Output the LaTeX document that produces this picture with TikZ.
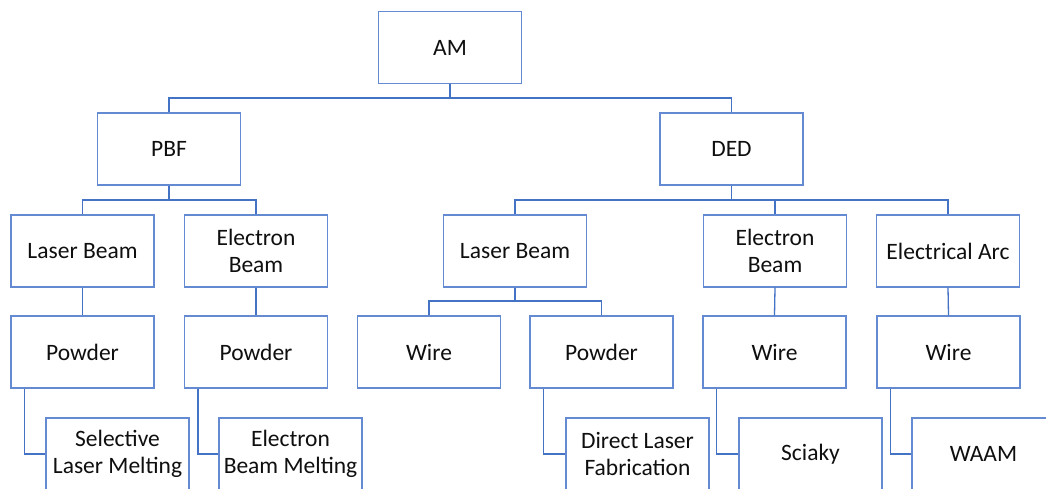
\documentclass[tikz,border=0pt]{standalone}
\usepackage{fontspec}
\setmainfont{Carlito}
\definecolor{boxblue}{RGB}{100,138,210}
\definecolor{linkblue}{RGB}{68,114,196}
\definecolor{txt}{RGB}{15,15,15}
\begin{document}
\begin{tikzpicture}[x=1pt,y=-1pt,
  box/.style={draw=boxblue,line width=1.3pt,fill=white,minimum width=143pt,minimum height=72pt,
    inner sep=0pt,align=center,text=txt,font=\fontsize{23.5}{27}\selectfont},
  link/.style={draw=linkblue,line width=1.3pt}]
\useasboundingbox (0,0) rectangle (1046,489);
\fill[white] (0,0) rectangle (1046,489);
% level 0
\node[box] (am) at (450,47.5) {AM};
% level 1
\node[box] (pbf) at (169,149) {PBF};
\node[box] (ded) at (731.5,149) {DED};
% level 2
\node[box] (lb1) at (82.5,251) {Laser Beam};
\node[box] (eb1) at (256,251) {Electron\\Beam};
\node[box] (lb2) at (515,251) {Laser Beam};
\node[box] (eb2) at (775,251) {Electron\\Beam};
\node[box] (ea) at (948,251) {Electrical Arc};
% level 3
\node[box] (p1) at (82.5,352) {Powder};
\node[box] (p2) at (256,352) {Powder};
\node[box] (w1) at (429,352) {Wire};
\node[box] (p3) at (601.5,352) {Powder};
\node[box] (w2) at (774.5,352) {Wire};
\node[box] (w3) at (948.5,352) {Wire};
% level 4
\node[box] (slm) at (117.5,454) {Selective\\Laser Melting};
\node[box] (ebm) at (290.5,454) {Electron\\Beam Melting};
\node[box] (dlf) at (637.5,454) {Direct Laser\\Fabrication};
\node[box] (sci) at (810.5,454) {Sciaky};
\node[box] (waam) at (983.5,454) {WAAM};
% connectors
\draw[link] (am.south) -- (am.south |- 0,98) -| (pbf.north);
\draw[link] (am.south) -- (am.south |- 0,98) -| (ded.north);
\draw[link] (pbf.south) -- (pbf.south |- 0,200) -| (lb1.north);
\draw[link] (pbf.south) -- (pbf.south |- 0,200) -| (eb1.north);
\draw[link] (ded.south) -- (ded.south |- 0,200) -| (lb2.north);
\draw[link] (ded.south) -- (ded.south |- 0,200) -| (eb2.north);
\draw[link] (ded.south) -- (ded.south |- 0,200) -| (ea.north);
\draw[link] (lb1.south) -- (p1.north);
\draw[link] (eb1.south) -- (p2.north);
\draw[link] (lb2.south) -- (lb2.south |- 0,301) -| (w1.north);
\draw[link] (lb2.south) -- (lb2.south |- 0,301) -| (p3.north);
\draw[link] (eb2.south) -- (w2.north);
\draw[link] (ea.south) -- (w3.north);
\draw[link] ([xshift=14pt]p1.south west) |- (slm.west);
\draw[link] ([xshift=14pt]p2.south west) |- (ebm.west);
\draw[link] ([xshift=14pt]p3.south west) |- (dlf.west);
\draw[link] ([xshift=14pt]w2.south west) |- (sci.west);
\draw[link] ([xshift=14pt]w3.south west) |- (waam.west);
\end{tikzpicture}
\end{document}
